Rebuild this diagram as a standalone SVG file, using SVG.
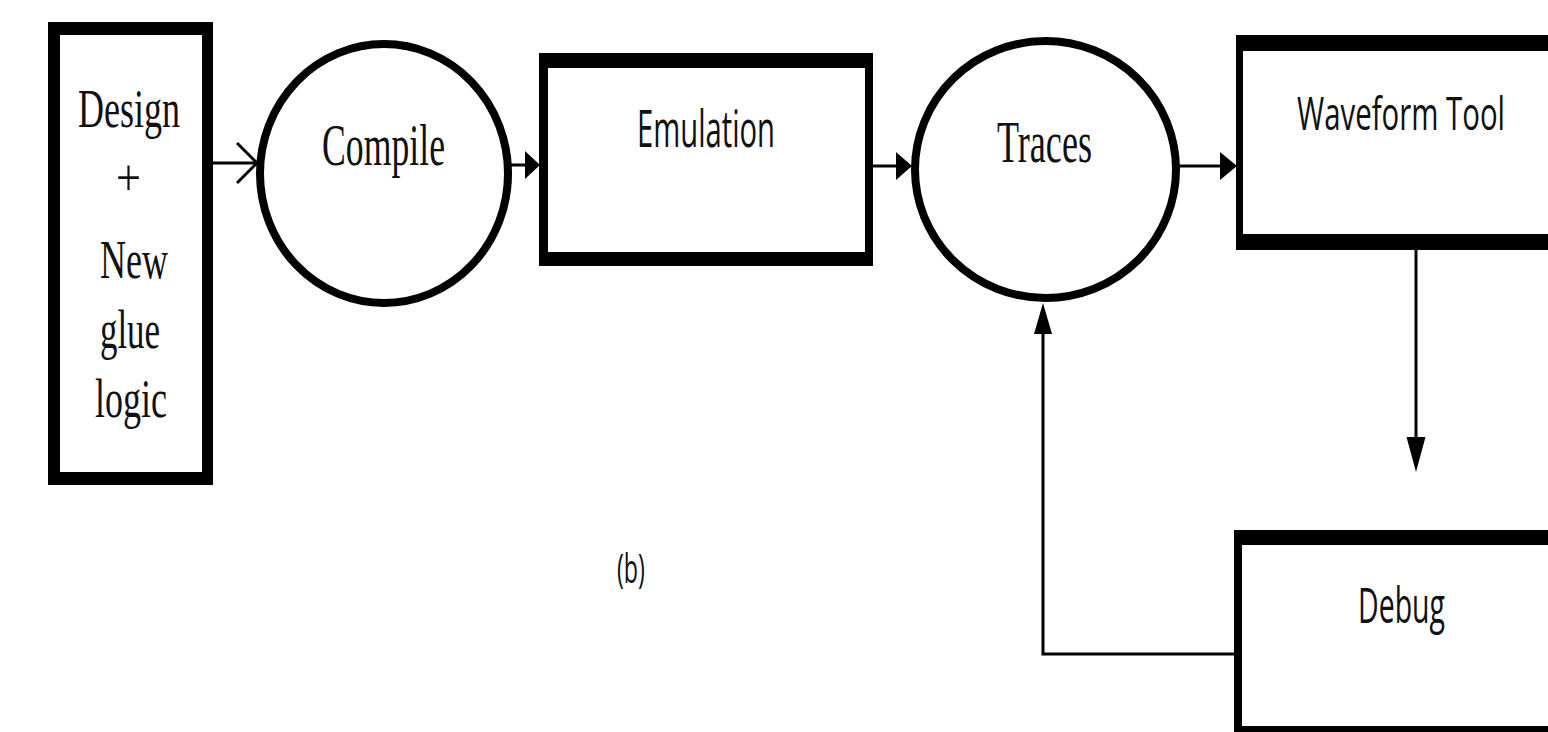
<svg xmlns="http://www.w3.org/2000/svg" width="1548" height="732" viewBox="0 0 1548 732">
  <style>
    .frame { fill: #000; }
    .inner { fill: #fff; }
    .oval { fill: #fff; stroke: #000; stroke-width: 8; }
    .serif { font-family: "Liberation Serif", "Times New Roman", serif; fill: #111; }
    .sans { font-family: "Open Sans", "Liberation Sans", sans-serif; fill: #111; }
    .wire { fill: none; stroke: #000; stroke-width: 3; }
    .head { fill: #000; }
  </style>
  <rect width="1548" height="732" fill="#fff"/>

  <!-- source: design plus glue logic -->
  <g id="design">
    <rect class="frame" x="48" y="22" width="165" height="463"/>
    <rect class="inner" x="60" y="35" width="142" height="437"/>
    <text class="serif" x="78" y="127" font-size="54" textLength="102" lengthAdjust="spacingAndGlyphs">Design</text>
    <text class="serif" x="116" y="195" font-size="52" textLength="25" lengthAdjust="spacingAndGlyphs">+</text>
    <text class="serif" x="100" y="278" font-size="54" textLength="68" lengthAdjust="spacingAndGlyphs">New</text>
    <text class="serif" x="100" y="348" font-size="54" textLength="60" lengthAdjust="spacingAndGlyphs">glue</text>
    <text class="serif" x="95" y="417" font-size="54" textLength="72" lengthAdjust="spacingAndGlyphs">logic</text>
  </g>

  <g id="compile">
    <ellipse class="oval" cx="384" cy="173.5" rx="124" ry="129.5"/>
    <text class="serif" x="322" y="165" font-size="60" textLength="123" lengthAdjust="spacingAndGlyphs">Compile</text>
  </g>

  <g id="emulation">
    <rect class="frame" x="539" y="53" width="334" height="213"/>
    <rect class="inner" x="548" y="68" width="317" height="184"/>
    <text class="sans" x="637" y="147" font-size="52" textLength="138" lengthAdjust="spacingAndGlyphs">Emulation</text>
  </g>

  <g id="traces">
    <ellipse class="oval" cx="1045.5" cy="169.5" rx="130.5" ry="128.5"/>
    <text class="serif" x="997" y="162" font-size="60" textLength="95" lengthAdjust="spacingAndGlyphs">Traces</text>
  </g>

  <g id="waveform">
    <rect class="frame" x="1236" y="35" width="330" height="215"/>
    <rect class="inner" x="1243" y="51" width="323" height="183"/>
    <text class="sans" x="1297" y="130" font-size="46" textLength="208" lengthAdjust="spacingAndGlyphs">Waveform Tool</text>
  </g>

  <g id="debug">
    <rect class="frame" x="1234" y="530" width="330" height="220"/>
    <rect class="inner" x="1242" y="545" width="322" height="181"/>
    <text class="sans" x="1358" y="623" font-size="50" textLength="87" lengthAdjust="spacingAndGlyphs">Debug</text>
  </g>

  <g id="caption">
    <text class="sans" x="617" y="583" font-size="40" textLength="28" lengthAdjust="spacingAndGlyphs">(b)</text>
  </g>

  <g id="connectors">
    <!-- design -> compile, open chevron head -->
    <path class="wire" d="M213 163 H256"/>
    <path class="wire" d="M237 143 L257 163 L237 183"/>
    <!-- compile -> emulation -->
    <path class="wire" d="M508 165 H527"/>
    <polygon class="head" points="525,151 540,165 525,179"/>
    <!-- emulation -> traces -->
    <path class="wire" d="M873 166 H898"/>
    <polygon class="head" points="896,152 912,166 896,180"/>
    <!-- traces -> waveform tool -->
    <path class="wire" d="M1178 166 H1222"/>
    <polygon class="head" points="1220,152 1237,166 1220,180"/>
    <!-- waveform tool -> debug -->
    <path class="wire" d="M1416 250 V440"/>
    <polygon class="head" points="1406.5,437 1425.5,437 1416,472"/>
    <!-- debug -> traces feedback -->
    <path class="wire" d="M1234 654 H1043 V330"/>
    <polygon class="head" points="1034,334 1052,334 1043,303"/>
  </g>
</svg>
